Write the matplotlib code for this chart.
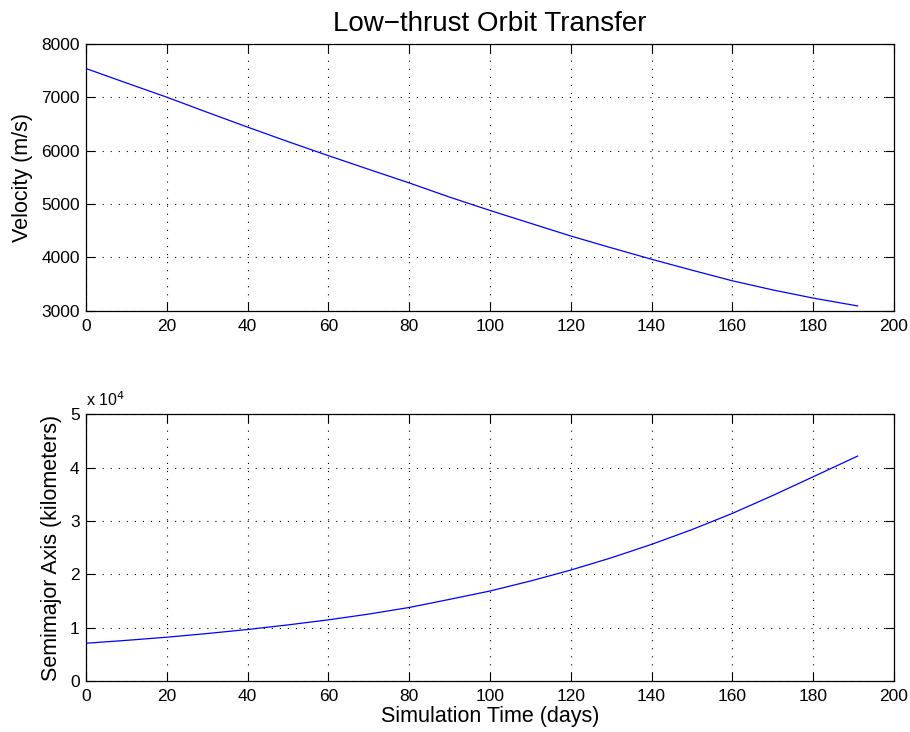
import matplotlib
matplotlib.use("Agg")
from matplotlib import pyplot as plt
from matplotlib.ticker import FuncFormatter

# values
days = [0, 10, 20, 30, 40, 50, 60, 70, 80, 90, 100, 110, 120, 130, 140, 150, 160, 170, 180, 191]
velocity = [7540, 7270, 7003, 6720, 6442, 6170, 5907, 5650, 5396, 5130, 4880, 4640, 4401, 4180,
            3965, 3760, 3561, 3390, 3237, 3090]
semimajor = [7080, 7620, 8210, 8900, 9660, 10520, 11470, 12550, 13790, 15310, 16880, 18750, 20810,
             23100, 25630, 28400, 31440, 34800, 38310, 42190]

x_ticks = [0, 20, 40, 60, 80, 100, 120, 140, 160, 180, 200]
v_ticks = [3000, 4000, 5000, 6000, 7000, 8000]
a_ticks = [0, 10000, 20000, 30000, 40000, 50000]

plt.rcParams['font.family'] = ['Liberation Sans', 'DejaVu Sans']
plt.rcParams['lines.scale_dashes'] = False


def matlabStyle(ax):
    ax.tick_params(direction='in', top=True, right=True, length=6.5, width=0.8, labelsize=12.5)
    ax.tick_params(axis='x', pad=6)
    ax.tick_params(axis='y', pad=4.5)
    for sp in ax.spines.values():
        sp.set_linewidth(0.9)
    ax.grid(True, linestyle=(0, (0.8, 5)), color='black', linewidth=0.8)
    ax.set_axisbelow(False)


fig = plt.figure(figsize=(9.1, 7.32), dpi=100)
ax1 = fig.add_axes([0.0945, 0.5755, 0.8879, 0.3644])
ax2 = fig.add_axes([0.0945, 0.0697, 0.8879, 0.3641])

ax1.plot(days, velocity, color='#0000ff', linewidth=0.9)
ax1.set_xlim(0, 200)
ax1.set_ylim(3000, 8000)
ax1.set_xticks(x_ticks)
ax1.set_yticks(v_ticks)
ax1.set_ylabel("Velocity (m/s)", fontsize=15.5, labelpad=6)
ax1.set_title("Low\u2212thrust Orbit Transfer", fontsize=20, pad=9)
matlabStyle(ax1)

ax2.plot(days, semimajor, color='#0000ff', linewidth=0.9)
ax2.set_xlim(0, 200)
ax2.set_ylim(0, 50000)
ax2.set_xticks(x_ticks)
ax2.set_yticks(a_ticks)
ax2.yaxis.set_major_formatter(FuncFormatter(lambda v, p: "%g" % (v / 1e4)))
ax2.set_xlabel("Simulation Time (days)", fontsize=15.5, labelpad=1)
ax2.set_ylabel("Semimajor Axis (kilometers)", fontsize=15.5, labelpad=6)
ax2.text(0.0, 1.02, "x 10$^{4}$", transform=ax2.transAxes, fontsize=11.5, va='bottom', ha='left')
matlabStyle(ax2)

fig.savefig("out.png", dpi=100)
